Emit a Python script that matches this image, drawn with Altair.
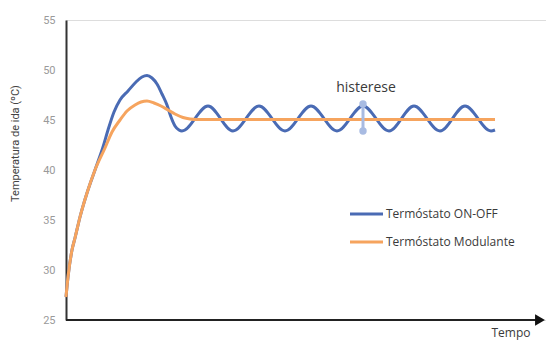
import altair as alt
import pandas as pd

# ---- data (time in arbitrary units, temperature in °C) ----
on_off_t = [0, 2, 6, 9, 14, 21, 29, 37, 42, 48, 54, 62, 70, 76, 81, 86, 91, 96, 101, 105, 109, 113,
            116, 142, 167, 193, 219, 245, 271, 297, 323, 348, 374, 399, 425, 429]
on_off_temp = [27.3, 29.3, 32.0, 33.2, 35.3, 37.7, 40.0, 42.3, 44.0, 45.8, 47.0, 47.9, 48.8, 49.3,
               49.45, 49.2, 48.6, 47.6, 46.5, 45.3, 44.4, 44.0,
               43.9, 46.4, 43.9, 46.4, 43.9, 46.4, 43.9, 46.4, 43.9, 46.4, 43.9, 46.4, 43.9, 44.0]

mod_t = [0, 2, 6, 9, 14, 21, 29, 39, 46, 54, 61, 69, 75, 81, 88, 95, 102, 109, 117, 124, 131, 429]
mod_temp = [27.3, 29.3, 32.0, 33.2, 35.3, 37.7, 40.0, 42.2, 43.8, 45.0, 45.9, 46.5, 46.8, 46.9,
            46.7, 46.4, 46.0, 45.6, 45.25, 45.1, 45.05, 45.05]

series_names = ["Termóstato ON-OFF", "Termóstato Modulante"]
series_colors = ["#4a6bb4", "#f6a45e"]
y_ticks = [25, 30, 35, 40, 45, 50, 55]

hyst_t = [297, 297]
hyst_temp = [46.6, 43.9]

W, H = 480, 300
x_scale = alt.Scale(domain=[0, W], nice=False, zero=False)
y_scale = alt.Scale(domain=[25, 55], nice=False, zero=False)

on_df = pd.DataFrame({"t": on_off_t, "temp": on_off_temp})
mod_df = pd.DataFrame({"t": mod_t, "temp": mod_temp})

y_axis = alt.Axis(values=y_ticks, ticks=False, grid=False, domainColor="#333333", domainWidth=2,
                  labelColor="#9a9a9a", labelFontSize=11, labelFont="Roboto", labelPadding=11,
                  title="Temperatura de ida (ºC)", titleFont="Roboto", titleFontSize=11,
                  titleFontWeight="normal", titleColor="#444444", titleAngle=-90,
                  titleX=-51, titleY=123, titleAlign="center", titleBaseline="middle")

X = lambda f="t": alt.X(f"{f}:Q", scale=x_scale, axis=None)
Y = lambda: alt.Y("temp:Q", scale=y_scale)

line_on = alt.Chart(on_df).mark_line(strokeWidth=3, interpolate="monotone", color=series_colors[0]).encode(
    x=X(), y=alt.Y("temp:Q", scale=y_scale, axis=y_axis))
line_mod = alt.Chart(mod_df).mark_line(strokeWidth=3, interpolate="monotone", color=series_colors[1]).encode(
    x=X(), y=Y())

# x axis with arrow
xaxis_df = pd.DataFrame({"t": [0], "t2": [471], "temp": [25]})
x_line = alt.Chart(xaxis_df).mark_rule(color="#222222", strokeWidth=2).encode(
    x=X(), x2="t2:Q", y=Y())
arrow_df = pd.DataFrame({"t": [474], "temp": [25]})
arrow = alt.Chart(arrow_df).mark_point(shape="triangle-right", filled=True, size=130,
                                        color="#111111", opacity=1).encode(x=X(), y=Y())

TXT = "#3a3a3a"
FONT = "Open Sans"
tempo_df = pd.DataFrame({"t": [445], "temp": [23.7], "txt": ["Tempo"]})
tempo = alt.Chart(tempo_df).mark_text(font=FONT, fontSize=12, color=TXT,
                                      baseline="middle", align="center").encode(
    x=X(), y=Y(), text="txt:N")

# hysteresis marker
hyst_df = pd.DataFrame({"t": hyst_t, "temp": hyst_temp})
hyst_line = alt.Chart(hyst_df).mark_line(color="#a8bbe2", strokeWidth=3).encode(x=X(), y=Y())
hyst_pts = alt.Chart(hyst_df).mark_circle(color="#a8bbe2", size=55, opacity=1).encode(x=X(), y=Y())
hyst_txt_df = pd.DataFrame({"t": [300], "temp": [48.2], "txt": ["histerese"]})
hyst_txt = alt.Chart(hyst_txt_df).mark_text(font=FONT, fontSize=14, color=TXT,
                                            baseline="middle", align="center").encode(
    x=X(), y=Y(), text="txt:N")

# legend
leg_df = pd.DataFrame({"t": [284, 284], "t2": [317, 317], "tt": [320, 320],
                       "temp": [35.6, 32.8], "serie": series_names})
leg_lines = alt.Chart(leg_df).mark_rule(strokeWidth=3).encode(
    x=X(), x2="t2:Q", y=Y(),
    color=alt.Color("serie:N", scale=alt.Scale(domain=series_names, range=series_colors), legend=None))
leg_txt = alt.Chart(leg_df).mark_text(font=FONT, fontSize=12, color=TXT,
                                      baseline="middle", align="left").encode(
    x=X("tt"), y=Y(), text="serie:N")

chart = alt.layer(line_on, line_mod, x_line, arrow, tempo, hyst_line, hyst_pts, hyst_txt,
                  leg_lines, leg_txt).properties(
    width=W, height=H,
    autosize=alt.AutoSizeParams(type="none"),
    padding={"left": 58, "top": 12, "right": 0, "bottom": 20},
).configure_view(stroke=None).configure(background="white")

chart.save("out.html", embed_options={"renderer": "svg", "actions": False})
